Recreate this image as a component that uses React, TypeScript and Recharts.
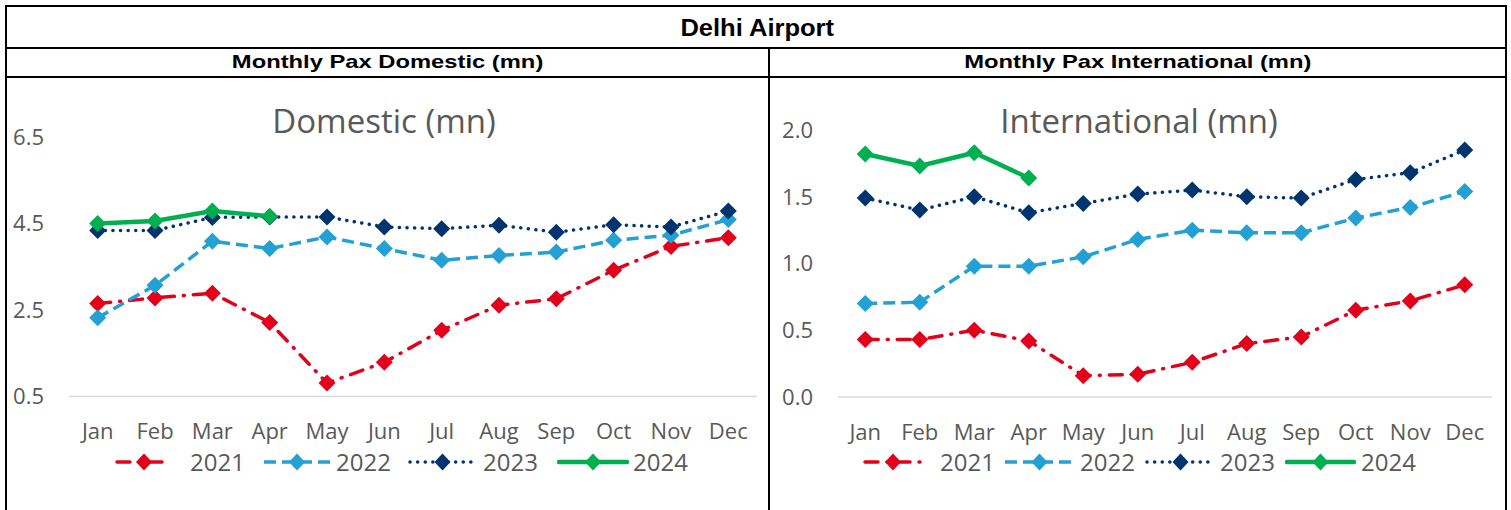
import React from 'react';
import { LineChart, Line, XAxis, YAxis } from 'recharts';

const months = ['Jan', 'Feb', 'Mar', 'Apr', 'May', 'Jun', 'Jul', 'Aug', 'Sep', 'Oct', 'Nov', 'Dec'];
const years = ['2021', '2022', '2023', '2024'];

// domestic pax (mn)
const dom2021 = [2.65, 2.78, 2.89, 2.21, 0.81, 1.29, 2.03, 2.61, 2.76, 3.42, 3.97, 4.17];
const dom2022 = [2.32, 3.07, 4.09, 3.92, 4.19, 3.92, 3.65, 3.76, 3.84, 4.11, 4.23, 4.59];
const dom2023 = [4.34, 4.34, 4.64, 4.65, 4.65, 4.42, 4.38, 4.46, 4.3, 4.47, 4.42, 4.79];
const dom2024 = [4.5, 4.56, 4.79, 4.67];
const domTicks = [0.5, 2.5, 4.5, 6.5];

// international pax (mn)
const intl2021 = [0.43, 0.43, 0.5, 0.42, 0.16, 0.17, 0.26, 0.4, 0.45, 0.65, 0.72, 0.84];
const intl2022 = [0.7, 0.71, 0.98, 0.98, 1.05, 1.18, 1.25, 1.23, 1.23, 1.34, 1.42, 1.54];
const intl2023 = [1.49, 1.4, 1.5, 1.38, 1.45, 1.52, 1.55, 1.5, 1.49, 1.63, 1.68, 1.85];
const intl2024 = [1.82, 1.73, 1.83, 1.64];
const intlTicks = [0, 0.5, 1, 1.5, 2];

const FONT = "'Open Sans', sans-serif";
const GREY = '#595959';

const styles: Record<string, { color: string; dash?: string; width: number; cap: 'round' | 'butt' }> = {
  '2021': { color: '#E2001A', dash: '13 9 1 9', width: 3.5, cap: 'round' },
  '2022': { color: '#23A0D4', dash: '12 6', width: 3.5, cap: 'butt' },
  '2023': { color: '#00346F', dash: '0.1 7.5', width: 3.5, cap: 'round' },
  '2024': { color: '#00B050', width: 4.5, cap: 'round' },
};

const buildRows = (series: number[][]) =>
  months.map((m, i) => {
    const row: Record<string, any> = { month: m };
    years.forEach((y, k) => {
      row[y] = series[k][i] ?? null;
    });
    return row;
  });

const domData = buildRows([dom2021, dom2022, dom2023, dom2024]);
const intlData = buildRows([intl2021, intl2022, intl2023, intl2024]);

const diamond = (color: string, r: number) => (props: any) => {
  const { cx, cy, index } = props;
  if (cx == null || cy == null || props.value == null) return <g key={index} />;
  return (
    <polygon
      key={index}
      points={`${cx},${cy - r} ${cx + r},${cy} ${cx},${cy + r} ${cx - r},${cy}`}
      fill={color}
    />
  );
};

function LegendRow({ iconX, iconW, textX }: { iconX: number[]; iconW: number[]; textX: number[] }) {
  return (
    <>
      {years.map((y, i) => {
        const s = styles[y];
        const w = iconW[i];
        const c = w / 2;
        return (
          <React.Fragment key={y}>
            <svg
              width={w}
              height={20}
              style={{ position: 'absolute', left: iconX[i], top: 452 }}
            >
              <line
                x1={2}
                y1={10}
                x2={w - 2}
                y2={10}
                stroke={s.color}
                strokeWidth={s.width}
                strokeDasharray={s.dash}
                strokeLinecap={s.cap}
              />
              <polygon points={`${c},1.5 ${c + 8},10 ${c},18.5 ${c - 8},10`} fill={s.color} />
            </svg>
            <div
              style={{
                position: 'absolute',
                left: textX[i],
                top: 446,
                fontFamily: FONT,
                fontSize: 24,
                lineHeight: '32px',
                color: GREY,
              }}
            >
              {y}
            </div>
          </React.Fragment>
        );
      })}
    </>
  );
}

function Panel({
  data,
  ticks,
  domain,
  left,
  width,
  margin,
  pad,
}: {
  data: any[];
  ticks: number[];
  domain: [number, number];
  left: number;
  width: number;
  margin: { top: number; right: number; left: number; bottom: number };
  pad: number;
}) {
  return (
    <div style={{ position: 'absolute', left, top: 80 }}>
      <LineChart width={width} height={430} data={data} margin={margin}>
        <XAxis
          dataKey="month"
          height={40}
          interval={0}
          padding={{ left: pad, right: pad }}
          axisLine={{ stroke: '#D9D9D9', strokeWidth: 1.5 }}
          tickLine={false}
          tickSize={0}
          tickMargin={27}
          tick={{ fill: GREY, fontSize: 22, fontFamily: FONT }}
        />
        <YAxis
          width={60}
          domain={domain}
          ticks={ticks}
          axisLine={false}
          tickLine={false}
          tickSize={0}
          tickMargin={25}
          tickFormatter={(v: number) => v.toFixed(1)}
          tick={{ fill: GREY, fontSize: 22, fontFamily: FONT }}
        />
        {years.map((y) => {
          const s = styles[y];
          return (
            <Line
              key={y}
              dataKey={y}
              type="linear"
              stroke={s.color}
              strokeWidth={s.width}
              strokeDasharray={s.dash}
              strokeLinecap={s.cap}
              dot={diamond(s.color, 8.5)}
              activeDot={false}
              isAnimationActive={false}
            />
          );
        })}
      </LineChart>
    </div>
  );
}

const line = (l: number, t: number, w: number, h: number) => (
  <div style={{ position: 'absolute', left: l, top: t, width: w, height: h, background: '#000' }} />
);

const headStyle: React.CSSProperties = {
  display: 'inline-block',
  fontFamily: "'Liberation Sans', Arial, sans-serif",
  fontWeight: 'bold',
  fontSize: 19,
  lineHeight: '22px',
  transform: 'scaleX(1.25)',
};

export default function App() {
  return (
    <div style={{ position: 'absolute', left: 0, top: 0, width: 1511, height: 510, background: '#fff', overflow: 'hidden' }}>
      {line(5, 5, 1502, 2)}
      {line(5, 5, 2, 505)}
      {line(1505, 5, 2, 505)}
      {line(5, 47, 1502, 2)}
      {line(5, 76, 1502, 1.5)}
      {line(768, 47, 2, 463)}

      <div style={{ position: 'absolute', left: 0, width: 1511, top: 14, textAlign: 'center' }}>
        <span
          style={{
            display: 'inline-block',
            fontFamily: "'Liberation Sans', Arial, sans-serif",
            fontWeight: 'bold',
            fontSize: 23,
            lineHeight: '28px',
            transform: 'scaleX(1.11)',
            marginLeft: 3,
          }}
        >
          Delhi Airport
        </span>
      </div>
      <div style={{ position: 'absolute', left: 7, width: 761, top: 51, textAlign: 'center' }}>
        <span style={headStyle}>Monthly Pax Domestic (mn)</span>
      </div>
      <div style={{ position: 'absolute', left: 770, width: 735, top: 51, textAlign: 'center' }}>
        <span style={headStyle}>Monthly Pax International (mn)</span>
      </div>

      <div style={{ position: 'absolute', left: 184, width: 400, top: 104, textAlign: 'center', fontFamily: FONT, fontSize: 33, lineHeight: '33px', color: GREY }}>
        Domestic (mn)
      </div>
      <div style={{ position: 'absolute', left: 939, width: 400, top: 104, textAlign: 'center', fontFamily: FONT, fontSize: 33, lineHeight: '33px', color: GREY }}>
        International (mn)
      </div>

      <Panel
        data={domData}
        ticks={domTicks}
        domain={[0.5, 6.5]}
        left={0}
        width={767}
        margin={{ top: 57, right: 10, left: 9, bottom: 73.5 }}
        pad={28.7}
      />
      <Panel
        data={intlData}
        ticks={intlTicks}
        domain={[0, 2]}
        left={770}
        width={741}
        margin={{ top: 50, right: 19, left: 8, bottom: 73 }}
        pad={27.25}
      />

      <LegendRow iconX={[115, 262, 408, 557]} iconW={[58, 70, 69, 72]} textX={[190, 336, 483, 633]} />
      <LegendRow iconX={[863, 1003, 1145, 1285]} iconW={[60, 73, 71, 71]} textX={[940, 1080, 1220, 1361]} />
    </div>
  );
}
